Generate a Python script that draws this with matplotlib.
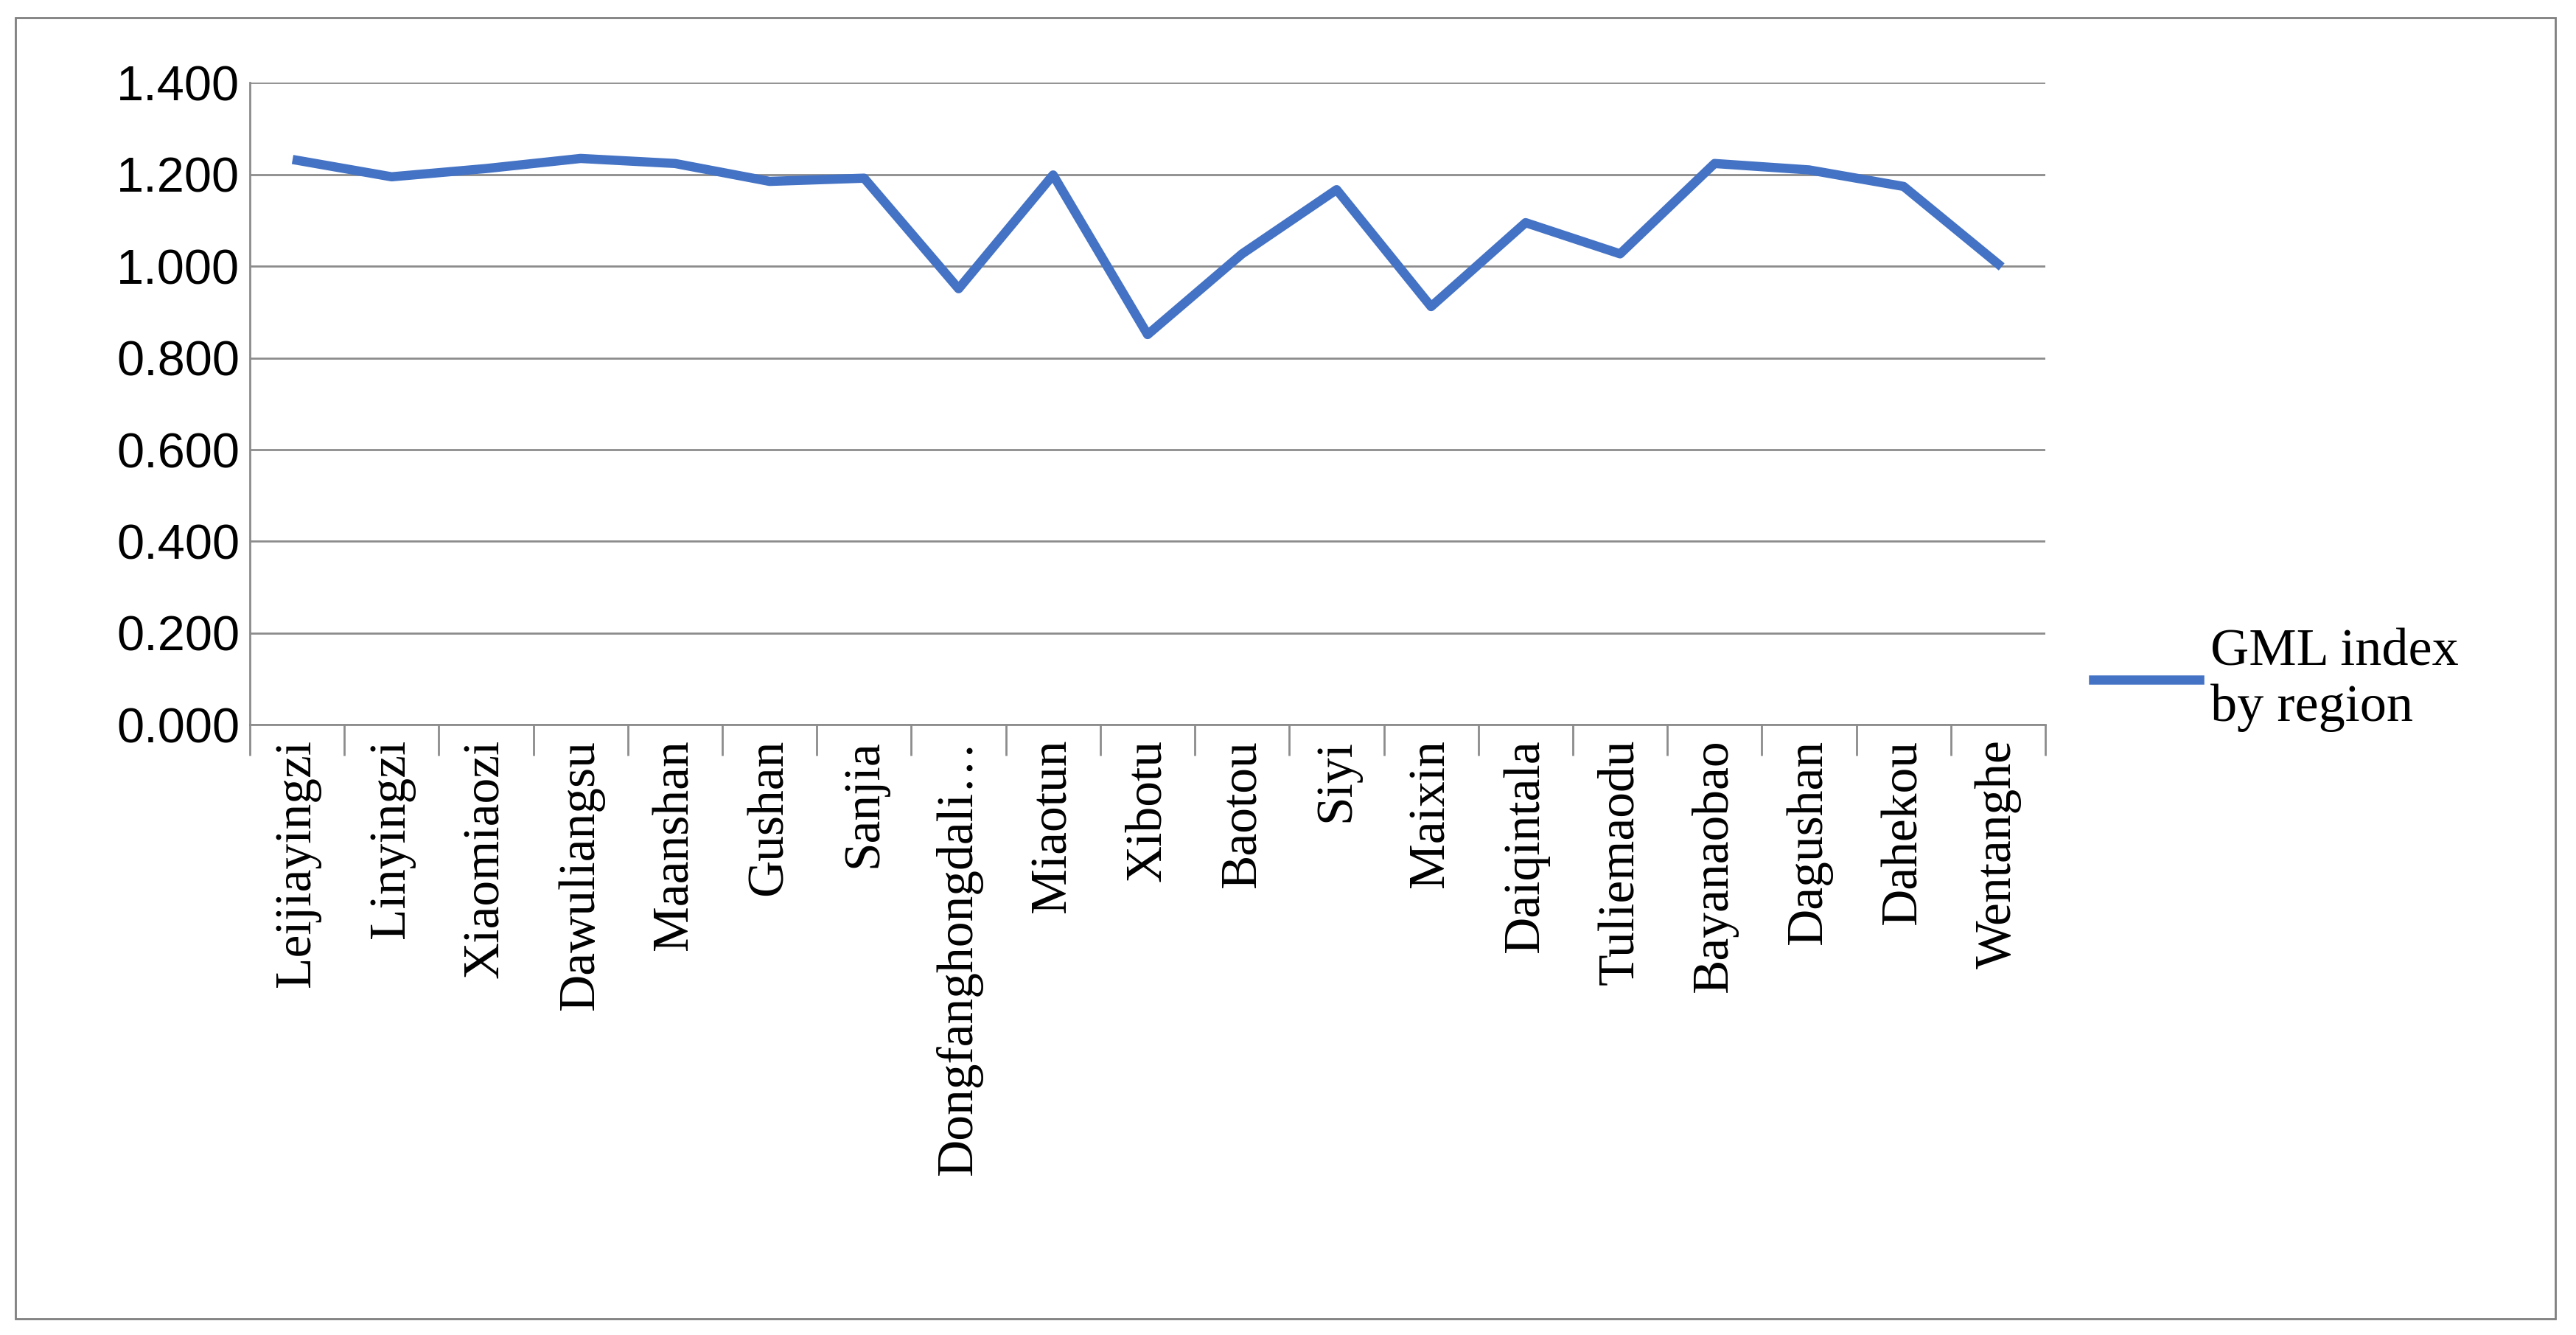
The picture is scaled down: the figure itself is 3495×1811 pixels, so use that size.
import matplotlib.pyplot as plt
from matplotlib.patches import Rectangle

plt.rcParams['font.family'] = ['Liberation Serif', 'DejaVu Serif']

regions = ['Leijiayingzi', 'Linyingzi', 'Xiaomiaozi', 'Dawuliangsu', 'Maanshan', 'Gushan',
           'Sanjia', 'Dongfanghongdali…', 'Miaotun', 'Xibotu', 'Baotou', 'Siyi', 'Maixin',
           'Daiqintala', 'Tuliemaodu', 'Bayanaobao', 'Dagushan', 'Dahekou', 'Wentanghe']
gml = [1.231, 1.195, 1.213, 1.235, 1.224, 1.185, 1.192, 0.951, 1.199, 0.851, 1.027,
       1.167, 0.912, 1.095, 1.027, 1.224, 1.210, 1.174, 1.005]
yticks = [0.0, 0.2, 0.4, 0.6, 0.8, 1.0, 1.2, 1.4]

fig = plt.figure(figsize=(34.95, 18.11), dpi=100)
fig.patches.append(Rectangle((0.006, 0.012), 0.986, 0.975, transform=fig.transFigure,
                             fill=False, edgecolor='#7f7f7f', linewidth=2))
ax = fig.add_axes([0.097, 0.457, 0.697, 0.481])

x = list(range(len(regions)))
ax.plot(x, gml, color='#4472C4', linewidth=9, solid_joinstyle='round', label='GML index\nby region')
ax.set_xlim(-0.5, len(regions) - 0.5)
ax.set_ylim(0, 1.4)
ax.set_yticks(yticks)
ax.set_yticklabels([f'{v:.3f}' for v in yticks], fontsize=48, family=['Liberation Sans'])
ax.yaxis.grid(True, color='#8c8c8c', linewidth=2)
ax.tick_params(axis='y', length=0, pad=10)
ax.set_xticks(x)
ax.set_xticklabels(regions, rotation=90, fontsize=50)
ax.tick_params(axis='x', length=0, pad=14)
ax.set_xticks([i - 0.5 for i in range(len(regions) + 1)], minor=True)
ax.tick_params(axis='x', which='minor', length=30, width=2, color='#8c8c8c')
for s in ['top', 'right']:
    ax.spines[s].set_visible(False)
for s in ['left', 'bottom']:
    ax.spines[s].set_color('#8c8c8c')
    ax.spines[s].set_linewidth(2)

ax.legend(loc='center left', bbox_to_anchor=(1.0, 0.07), frameon=False, fontsize=52,
          handlelength=2.0, handletextpad=0.2)
fig.savefig('out.png')
